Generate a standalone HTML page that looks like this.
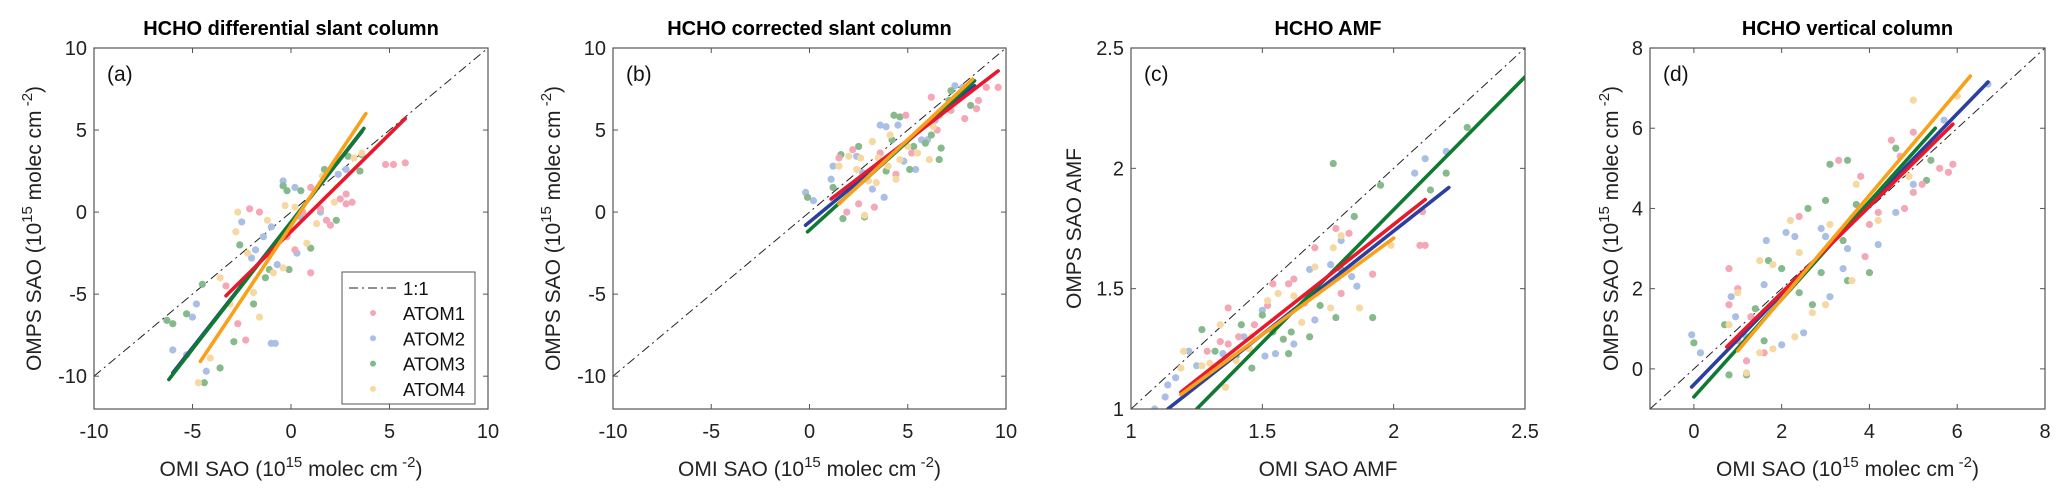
<!DOCTYPE html>
<html><head><meta charset="utf-8">
<style>
html,body{margin:0;padding:0;background:#fff;}
svg{display:block;font-family:"Liberation Sans",Arial,sans-serif;}
</style></head>
<body>
<svg id="fig" width="2067" height="498" viewBox="0 0 2067 498" xmlns="http://www.w3.org/2000/svg"></svg>
<script>
// ---------- DATA ----------
const seriesNames = ["ATOM1","ATOM2","ATOM3","ATOM4"];
// Panel (a) differential slant column
const aAtom1 = [[4.8,2.9],[5.2,2.9],[5.8,3.0],[2.5,0.8],[2.8,0.5],[3.1,0.6],[2.0,-0.8],[1.0,-3.7],[-0.2,-1.5],[0.6,0.0],[1.5,0.2],[1.0,1.5],[-2.3,-7.8],[-2.7,-6.8],[-3.3,-4.5],[-2.1,0.2],[-1.6,0.0],[2.8,1.1],[0.2,-2.3],[1.8,-0.5]];
const aAtom2 = [[-6.0,-8.4],[-5.3,-8.7],[-4.3,-9.7],[-4.8,-5.6],[-5.0,-6.4],[-1.0,-8.0],[-0.8,-8.0],[-1.4,-1.5],[-2.5,-0.6],[-0.4,1.9],[0.2,1.5],[-0.7,-3.2],[0.3,-2.5],[-2.0,-2.8],[-1.0,-0.9],[0.5,-0.3],[2.4,2.3],[2.8,2.6],[-1.8,-2.3],[1.5,0.0]];
const aAtom3 = [[-6.3,-6.6],[-6.0,-6.8],[-5.3,-6.2],[-4.5,-4.4],[-4.4,-10.4],[-3.6,-9.5],[-2.9,-7.9],[-1.9,-5.6],[-1.1,-3.5],[-0.4,1.6],[-0.2,1.3],[0.5,1.3],[1.7,2.6],[2.9,3.4],[3.6,3.5],[3.5,2.5],[2.3,-0.5],[1.0,-2.2],[-0.1,-3.5],[-2.6,-2.0],[-1.3,-4.0]];
const aAtom4 = [[-4.7,-10.4],[-4.1,-8.9],[-3.1,-5.6],[-2.7,0.0],[-2.2,-2.5],[-1.6,-6.4],[-1.9,-4.9],[-1.2,-0.5],[-0.3,0.4],[0.2,0.3],[0.8,-1.9],[1.3,-0.7],[2.2,0.6],[3.2,3.3],[3.6,3.6],[-0.9,-3.7],[-0.4,-3.4],[-2.8,-1.2],[-3.6,-4.0],[1.6,2.2]];
const aFits = [[-3.3,-5.1,5.8,5.7],[-6.0,-9.8,3.6,4.9],[-6.2,-10.2,3.7,5.1],[-4.6,-9.1,3.8,6.0]];
// Panel (b) corrected slant column
const bAtom1 = [[9.0,7.6],[9.6,7.6],[8.5,6.3],[7.9,5.7],[7.2,6.2],[6.5,5.0],[6.2,7.0],[4.9,5.9],[2.5,0.5],[3.3,0.3],[1.9,0.0],[3.6,3.6],[5.2,3.6],[2.2,3.8],[6.6,5.9],[8.6,6.8],[1.5,3.3],[4.4,2.3]];
const bAtom2 = [[-0.2,1.2],[0.2,0.7],[1.2,2.8],[1.1,2.0],[2.4,3.4],[3.6,5.3],[3.9,5.2],[4.8,3.1],[5.4,2.6],[6.0,4.4],[7.4,7.7],[7.8,7.6],[2.7,2.4],[3.2,1.4],[4.5,5.3],[5.7,4.4],[6.4,5.6],[3.8,0.9]];
const bAtom3 = [[-0.1,0.9],[1.2,1.5],[1.6,3.5],[1.7,-0.4],[2.8,-0.3],[2.5,4.0],[4.3,5.9],[4.6,5.8],[5.1,2.6],[5.3,4.0],[6.2,4.7],[6.7,3.9],[6.6,3.2],[7.1,6.8],[7.2,7.4],[8.2,6.5],[3.9,2.5],[4.2,4.4],[3.0,2.3],[5.9,4.2]];
const bAtom4 = [[1.5,2.8],[2.0,3.4],[2.6,3.3],[2.8,-0.2],[3.0,1.9],[3.2,4.3],[3.5,3.3],[4.0,2.8],[4.4,2.0],[4.6,3.2],[5.5,3.6],[6.1,3.2],[6.3,5.2],[7.2,6.5],[2.4,2.6],[3.4,1.8],[4.1,4.7],[5.0,4.0]];
const bFits = [[1.1,0.8,9.6,8.6],[-0.2,-0.8,8.4,7.7],[-0.1,-1.2,8.4,8.0],[1.5,0.5,8.3,8.1]];
// Panel (c) AMF
const cAtom1 = [[1.37,1.42],[1.34,1.28],[1.37,1.27],[1.41,1.30],[1.47,1.35],[1.54,1.52],[1.62,1.54],[1.66,1.44],[1.70,1.67],[1.78,1.75],[1.83,1.73],[1.92,1.56],[2.10,1.68],[2.12,1.68],[1.80,1.48],[1.29,1.24],[1.52,1.43],[1.60,1.52],[2.11,1.82]];
const cAtom2 = [[1.09,1.00],[1.13,1.05],[1.14,1.10],[1.17,1.13],[1.22,1.24],[1.25,1.18],[1.35,1.23],[1.43,1.30],[1.51,1.22],[1.55,1.23],[1.62,1.27],[1.70,1.37],[1.76,1.60],[1.80,1.70],[1.86,1.51],[1.84,1.55],[2.08,1.98],[2.12,2.04],[2.20,2.07],[1.68,1.58],[1.50,1.41]];
const cAtom3 = [[1.27,1.33],[1.32,1.24],[1.42,1.35],[1.46,1.17],[1.50,1.39],[1.54,1.32],[1.58,1.29],[1.61,1.32],[1.68,1.30],[1.72,1.43],[1.78,1.38],[1.77,2.02],[1.80,1.58],[1.85,1.80],[1.95,1.93],[1.92,1.38],[2.20,1.98],[2.28,2.17],[2.14,1.91],[1.40,1.22],[1.60,1.23]];
const cAtom4 = [[1.20,1.24],[1.19,1.17],[1.27,1.18],[1.34,1.35],[1.36,1.09],[1.40,1.20],[1.45,1.25],[1.52,1.45],[1.56,1.48],[1.62,1.47],[1.70,1.59],[1.77,1.67],[1.80,1.72],[1.76,1.42],[1.87,1.42],[1.99,1.68],[1.65,1.36],[1.30,1.19],[1.46,1.30]];
const cFits = [[1.19,1.07,2.12,1.87],[1.14,1.0,2.21,1.92],[1.25,1.0,2.5,2.38],[1.19,1.06,2.0,1.71]];
// Panel (d) vertical column
const dAtom1 = [[0.8,1.6],[1.0,0.7],[1.2,0.2],[1.3,1.3],[1.6,0.4],[2.4,3.8],[3.3,5.2],[3.8,4.8],[4.0,3.6],[4.2,3.9],[4.5,5.7],[4.7,5.3],[5.0,4.4],[5.2,4.6],[5.0,5.9],[5.6,5.0],[5.8,4.9],[5.9,5.1],[4.8,4.0],[3.9,2.8],[0.8,2.5],[1.0,2.0]];
const dAtom2 = [[-0.05,0.85],[0.15,0.4],[0.85,1.8],[0.95,1.3],[1.6,2.1],[1.65,3.2],[2.1,3.4],[2.3,3.3],[2.5,0.9],[2.0,0.6],[3.0,3.3],[3.4,2.5],[3.5,3.0],[4.2,3.1],[4.6,3.9],[5.0,4.6],[5.7,6.2],[6.7,7.1],[2.9,3.5],[3.1,1.8],[1.2,0.8]];
const dAtom3 = [[0.0,0.65],[0.8,-0.15],[1.2,-0.15],[0.7,1.1],[1.4,1.5],[1.6,0.7],[1.7,2.7],[2.0,2.5],[2.6,4.0],[3.0,4.2],[3.1,5.1],[3.5,5.2],[3.5,2.2],[4.0,2.4],[3.4,3.2],[2.9,2.4],[4.6,5.5],[5.3,4.7],[5.4,5.2],[2.7,1.6],[3.7,4.1],[2.4,1.9]];
const dAtom4 = [[0.8,1.1],[1.2,-0.1],[1.5,0.4],[1.5,2.7],[1.8,2.6],[2.2,3.7],[2.4,2.9],[2.7,1.4],[3.0,1.6],[3.1,3.6],[3.7,4.6],[3.6,2.2],[4.2,3.7],[4.9,4.8],[5.0,6.7],[6.0,6.8],[2.3,0.8],[1.8,0.5],[3.9,4.0],[1.0,1.9]];
const dFits = [[0.75,0.55,5.9,6.1],[-0.05,-0.45,6.7,7.15],[0.0,-0.7,5.5,6.0],[1.0,0.45,6.3,7.3]];
const ticksSlant = [-10,-5,0,5,10];
const ticksAmf = [1,1.5,2,2.5];
const ticksVcd = [0,2,4,6,8];

// ---------- STYLE ----------
const ptCol = ["#f4a7b6","#a9bfe5","#86b98b","#f6d9a2"];
const fitCol = ["#e8192c","#2b3f9e","#117a32","#f9a11b"];
const drawOrder = [1,2,0,3];
const NS = "http://www.w3.org/2000/svg";
const svg = document.getElementById("fig");
function mk(tag, attrs, parent){ const e=document.createElementNS(NS,tag); for(const k in attrs) e.setAttribute(k,attrs[k]); (parent||svg).appendChild(e); return e; }

const panels = [
 {id:"a", title:"HCHO differential slant column", x0:94, x1:488, y0:48, y1:409, xd:[-10,10], yd:[-12,10], xt:ticksSlant, yt:ticksSlant, pts:[aAtom1,aAtom2,aAtom3,aAtom4], fits:aFits, unit:true, legend:true, ylx:33},
 {id:"b", title:"HCHO corrected slant column", x0:613, x1:1006, y0:48, y1:409, xd:[-10,10], yd:[-12,10], xt:ticksSlant, yt:ticksSlant, pts:[bAtom1,bAtom2,bAtom3,bAtom4], fits:bFits, unit:true, ylx:552},
 {id:"c", title:"HCHO AMF", x0:1131, x1:1525, y0:48, y1:409, xd:[1,2.5], yd:[1,2.5], xt:ticksAmf, yt:ticksAmf, pts:[cAtom1,cAtom2,cAtom3,cAtom4], fits:cFits, unit:false, ylx:1073},
 {id:"d", title:"HCHO vertical column", x0:1650, x1:2045, y0:48, y1:409, xd:[-1,8], yd:[-1,8], xt:ticksVcd, yt:ticksVcd, pts:[dAtom1,dAtom2,dAtom3,dAtom4], fits:dFits, unit:true, ylx:1610}
];

panels.forEach(p=>{
  const g = mk("g",{});
  
  
  const sx = v => p.x0 + (v-p.xd[0])/(p.xd[1]-p.xd[0])*(p.x1-p.x0);
  const sy = v => p.y1 - (v-p.yd[0])/(p.yd[1]-p.yd[0])*(p.y1-p.y0);
  const cx=(p.x0+p.x1)/2, cy=(p.y0+p.y1)/2;
  const clipId="clip"+p.id;
  const cp = mk("clipPath",{id:clipId},g); mk("rect",{x:p.x0,y:p.y0,width:p.x1-p.x0,height:p.y1-p.y0},cp);
  const t = mk("text",{x:cx,y:35,"text-anchor":"middle","font-size":"20","font-weight":"bold",fill:"#000"},g);
  t.textContent=p.title;
  
  
  const lo=Math.max(p.xd[0],p.yd[0]), hi=Math.min(p.xd[1],p.yd[1]);
  const d1 = mk("line",{x1:sx(lo),y1:sy(lo),x2:sx(hi),y2:sy(hi),stroke:"#222","stroke-width":"1","stroke-dasharray":"9 4 2 4","clip-path":"url(#"+clipId+")"},g);
  
  
  const pg = mk("g",{"clip-path":"url(#"+clipId+")"},g);
  drawOrder.forEach(si=>{
    p.pts[si].forEach(pt=>{
      const c = mk("circle",{cx:sx(pt[0]),cy:sy(pt[1]),r:3.6,fill:ptCol[si]},pg);
      
      
    });
  });
  drawOrder.forEach(si=>{
    const f=p.fits[si];
    const l = mk("line",{x1:sx(f[0]),y1:sy(f[1]),x2:sx(f[2]),y2:sy(f[3]),stroke:fitCol[si],"stroke-width":"3.6","stroke-linecap":"round","clip-path":"url(#"+clipId+")"},g);
    
    
  });
  const box = mk("rect",{x:p.x0,y:p.y0,width:p.x1-p.x0,height:p.y1-p.y0,fill:"none",stroke:"#555","stroke-width":"1.2"},g);
  
  
  p.xt.forEach(v=>{
    const X=sx(v);
    mk("line",{x1:X,y1:p.y1,x2:X,y2:p.y1-5,stroke:"#555","stroke-width":"1"},g);
    mk("line",{x1:X,y1:p.y0,x2:X,y2:p.y0+5,stroke:"#555","stroke-width":"1"},g);
    const tl = mk("text",{x:X,y:p.y1+29,"text-anchor":"middle","font-size":"20",fill:"#222"},g);
    tl.textContent=String(v);
    
    
  });
  p.yt.forEach(v=>{
    const Y=sy(v);
    mk("line",{x1:p.x0,y1:Y,x2:p.x0+5,y2:Y,stroke:"#555","stroke-width":"1"},g);
    mk("line",{x1:p.x1,y1:Y,x2:p.x1-5,y2:Y,stroke:"#555","stroke-width":"1"},g);
    const tl = mk("text",{x:p.x0-7,y:Y+7,"text-anchor":"end","font-size":"20",fill:"#222"},g);
    tl.textContent=String(v);
    
    
  });
  const pl = mk("text",{x:p.x0+13,y:p.y0+33,"font-size":"21",fill:"#111"},g);
  pl.textContent="("+p.id+")";
  
  
  const xl = mk("text",{x:cx,y:476,"text-anchor":"middle","font-size":"21",fill:"#222"},g);
  
  
  const yl = mk("text",{x:0,y:0,"text-anchor":"middle","font-size":"21",fill:"#222",transform:"translate("+(p.ylx+8)+","+cy+") rotate(-90)"},g);
  
  
  if(p.unit){
    xl.innerHTML='OMI SAO (10<tspan dy="-9" font-size="15">15</tspan><tspan dy="9"> molec cm</tspan><tspan dy="-9" font-size="15"> -2</tspan><tspan dy="9">)</tspan>';
    yl.innerHTML='OMPS SAO (10<tspan dy="-9" font-size="15">15</tspan><tspan dy="9"> molec cm</tspan><tspan dy="-9" font-size="15"> -2</tspan><tspan dy="9">)</tspan>';
  } else {
    xl.textContent='OMI SAO AMF';
    yl.textContent='OMPS SAO AMF';
  }
  if(p.legend){
    const lg = mk("g",{},g);
    
    
    mk("rect",{x:342,y:272,width:133,height:132,fill:"#fff",stroke:"#555","stroke-width":"1"},lg);
    mk("line",{x1:349,y1:288,x2:397,y2:288,stroke:"#222","stroke-width":"1","stroke-dasharray":"9 4 2 4"},lg);
    const l0 = mk("text",{x:403,y:295,"font-size":"18.5",fill:"#111"},lg);
    l0.textContent="1:1";
    
    
    seriesNames.forEach((n,i)=>{
      const y=313+i*25.3;
      mk("circle",{cx:373,cy:y,r:3,fill:ptCol[i]},lg);
      const lt = mk("text",{x:403,y:y+7,"font-size":"18.5",fill:"#111"},lg);
      lt.textContent=n;
      
      
    });
  }
});
</script>
</body></html>
